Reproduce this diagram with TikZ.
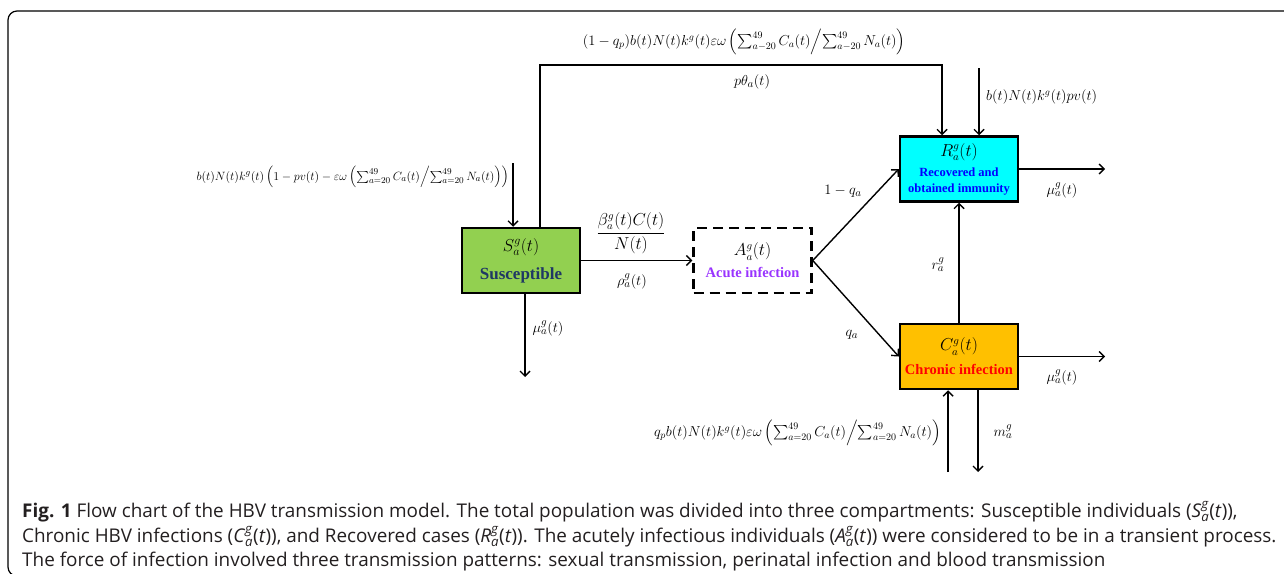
\documentclass[tikz,border=0pt]{standalone}
\usepackage{amsmath}
\usepackage{fontspec}
\setmainfont{Liberation Serif}
\newfontfamily\capfont{Open Sans}
\usetikzlibrary{arrows.meta}
\definecolor{sgreen}{HTML}{92D050}
\definecolor{rcyan}{HTML}{00FFFF}
\definecolor{corange}{HTML}{FFC000}
\definecolor{snavy}{HTML}{1F3864}
\definecolor{apurple}{HTML}{9933FF}
\definecolor{capgray}{HTML}{231F20}
\newcommand{\capvar}[1]{\textit{#1}$^{\textit{g}}_{\textit{a}}$(\textit{t})}
\begin{document}
\begin{tikzpicture}[x=1pt,y=-1pt,
  box/.style={draw, line width=2.5pt, minimum width=118pt, minimum height=65pt, inner sep=0pt, align=center},
  arr/.style={line width=1.4pt, -{Straight Barb[length=5pt,width=10pt,line width=1.4pt]}},
  lab/.style={font=\fontsize{15}{17}\selectfont, inner sep=1pt},
  longlab/.style={font=\fontsize{14}{16}\selectfont, inner sep=1pt},
  captext/.style={anchor=west, inner sep=0pt, text=capgray, font=\capfont\fontsize{18.9}{20}\selectfont}
]
\useasboundingbox (0,0) rectangle (1284,573);
\begin{scope}
\clip (0,0) rectangle (1284,573);
\draw[line width=1.2pt, rounded corners=9pt] (1300,11) -- (8,11) -- (8,576) -- (1300,576);
\end{scope}

% boxes
\node[box, fill=sgreen, font=\fontsize{17}{20}\selectfont] (S) at (521,260.5) {$S_a^g(t)$\\[8pt]{\bfseries\color{snavy}Susceptible}};
\node[box, dashed, dash pattern=on 10pt off 6pt, font=\fontsize{14.5}{17}\selectfont] (A) at (752.5,260.5) {{\fontsize{16}{19}\selectfont$A_a^g(t)$}\\[5pt]{\bfseries\color{apurple}Acute infection}};
\node[box, fill=rcyan, font=\fontsize{12.5}{16}\selectfont] (R) at (959,169) {{\fontsize{16}{19}\selectfont$R_a^g(t)$}\\[4pt]{\bfseries\color{blue}Recovered and}\\{\bfseries\color{blue}obtained immunity}};
\node[box, fill=corange, font=\fontsize{14.5}{17}\selectfont] (C) at (959,356.5) {{\fontsize{16}{19}\selectfont$C_a^g(t)$}\\[7pt]{\bfseries\color{red}Chronic infection}};

% coordinates for free ends
\coordinate (sin) at (513,163);
\coordinate (top) at (540,65);
\coordinate (rin) at (979,68);
\coordinate (rout) at (1105,169);
\coordinate (sout) at (525,377);
\coordinate (cout) at (1105,356.5);
\coordinate (cin) at (948,472);
\coordinate (cdown) at (978,472);

% connectors
\draw[arr] (sin) -- ([xshift=-8pt]S.north);
\draw[arr] ([xshift=19pt]S.north) -- (top) -| ([xshift=-17pt]R.north);
\draw[arr] (rin) -- ([xshift=20pt]R.north);
\draw[arr] (R.east) -- (rout);
\draw[arr] (S.east) -- (A.west);
\draw[arr] ([xshift=4pt]S.south) -- (sout);
\draw[arr] (A.east) -- (R.west);
\draw[arr] (A.east) -- (C.west);
\draw[arr] (C.north) -- (R.south);
\draw[arr] (C.east) -- (cout);
\draw[arr] (cin) -- ([xshift=-11pt]C.south);
\draw[arr] ([xshift=19pt]C.south) -- (cdown);

% labels
\node[longlab] (l1) at (744,42) {$(1-q_p)b(t)N(t)k^g(t)\varepsilon\omega\left(\sum_{a-20}^{49}C_a(t)\middle/\sum_{a-20}^{49}N_a(t)\right)$};
\node[lab] (l2) at (752,82) {$p\theta_a(t)$};
\node[longlab, font=\fontsize{13}{15}\selectfont, anchor=east] (l3) at (510,177) {$b(t)N(t)k^g(t)\left(1-pv(t)-\varepsilon\omega\left(\sum_{a=20}^{49}C_a(t)\middle/\sum_{a=20}^{49}N_a(t)\right)\right)$};
\node[longlab, anchor=west] (l4) at (985,97) {$b(t)N(t)k^g(t)pv(t)$};
\node[lab, font=\fontsize{16}{18}\selectfont] (l5) at (631,233) {$\dfrac{\beta_a^g(t)C(t)}{N(t)}$};
\node[lab] (l6) at (632,281) {$\rho_a^g(t)$};
\node[lab] (l7) at (548,328) {$\mu_a^g(t)$};
\node[lab] (l8) at (843,191) {$1-q_a$};
\node[lab] (l9) at (852,335) {$q_a$};
\node[lab] (l10) at (938,265) {$r_a^g$};
\node[lab] (l11) at (1062,190) {$\mu_a^g(t)$};
\node[lab] (l12) at (1062,377) {$\mu_a^g(t)$};
\node[longlab, font=\fontsize{14.5}{16}\selectfont, anchor=east] (l13) at (942,433) {$q_pb(t)N(t)k^g(t)\varepsilon\omega\left(\sum_{a=20}^{49}C_a(t)\middle/\sum_{a=20}^{49}N_a(t)\right)$};
\node[lab] (l14) at (1003,432) {$m_a^g$};

% caption
\node[captext] (c1) at (22,512) {\textbf{Fig. 1} Flow chart of the HBV transmission model. The total population was divided into three compartments: Susceptible individuals (\capvar{S}),};
\node[captext] (c2) at (22,537) {Chronic HBV infections (\capvar{C}), and Recovered cases (\capvar{R}). The acutely infectious individuals (\capvar{A}) were considered to be in a transient process.};
\node[captext] (c3) at (22,562) {The force of infection involved three transmission patterns: sexual transmission, perinatal infection and blood transmission};
\end{tikzpicture}
\end{document}
